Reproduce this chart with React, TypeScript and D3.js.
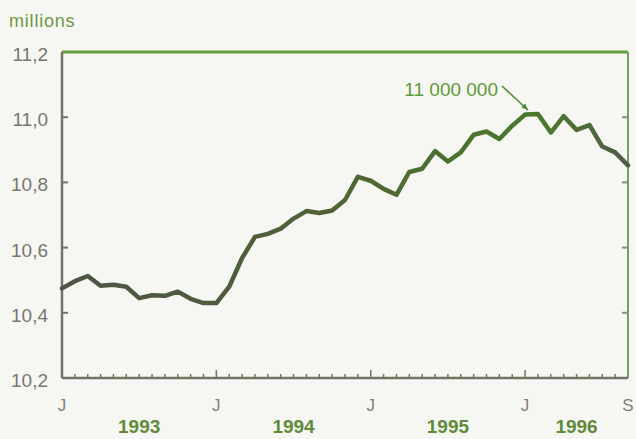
import React, { useEffect, useRef } from 'react';
import * as d3 from 'd3';

// monthly values, Jan 1993 .. Sep 1996 (millions)
const months = d3.range(45);
const values = [
  10.475, 10.497, 10.513, 10.483, 10.486, 10.48, 10.445, 10.454, 10.452, 10.465, 10.443, 10.43,
  10.43, 10.48, 10.568, 10.633, 10.642, 10.658, 10.689, 10.712, 10.706, 10.714, 10.746, 10.817,
  10.805, 10.78, 10.762, 10.832, 10.842, 10.896, 10.864, 10.892, 10.946, 10.956, 10.933, 10.974,
  11.008, 11.01, 10.953, 11.003, 10.961, 10.976, 10.91, 10.892, 10.852,
];
const yTicks = [11.2, 11.0, 10.8, 10.6, 10.4, 10.2];
const monthLabels = [
  { m: 0, label: 'J' },
  { m: 12, label: 'J' },
  { m: 24, label: 'J' },
  { m: 36, label: 'J' },
  { m: 44, label: 'S' },
];
const years = [
  { from: 0, to: 12, label: '1993' },
  { from: 12, to: 24, label: '1994' },
  { from: 24, to: 36, label: '1995' },
  { from: 36, to: 44, label: '1996' },
];
const peakLabel = '11 000 000';
const peakMonth = 37;

export default function App() {
  const ref = useRef<SVGSVGElement>(null);

  useEffect(() => {
    const width = 636;
    const height = 439;
    const left = 62, right = 628, top = 52, bottom = 378;

    const svg = d3.select(ref.current);
    svg.selectAll('*').remove();

    svg.append('rect').attr('width', width).attr('height', height).attr('fill', '#f6f6f3');

    const x = d3.scaleLinear().domain([0, 44]).range([left, right]);
    const y = d3.scaleLinear().domain([10.2, 11.2]).range([bottom, top]);

    const font = "'Liberation Sans', Arial, sans-serif";
    const axisGray = '#6e7565';
    const green = '#64a03c';

    // frame
    svg.append('line').attr('x1', left).attr('x2', right).attr('y1', top).attr('y2', top)
      .attr('stroke', green).attr('stroke-width', 3);
    svg.append('line').attr('x1', right).attr('x2', right).attr('y1', top).attr('y2', bottom)
      .attr('stroke', '#7c9a66').attr('stroke-width', 2);
    svg.append('line').attr('x1', left).attr('x2', left).attr('y1', top).attr('y2', bottom)
      .attr('stroke', axisGray).attr('stroke-width', 2.5);
    svg.append('line').attr('x1', left).attr('x2', right).attr('y1', bottom).attr('y2', bottom)
      .attr('stroke', axisGray).attr('stroke-width', 2.5);

    // y ticks (inside, both sides)
    const inner = yTicks.filter(v => v > 10.2 && v < 11.2);
    svg.selectAll('line.ytl').data(inner).enter().append('line')
      .attr('x1', left).attr('x2', left + 6)
      .attr('y1', d => y(d)).attr('y2', d => y(d))
      .attr('stroke', axisGray).attr('stroke-width', 2);
    svg.selectAll('line.ytr').data(inner).enter().append('line')
      .attr('x1', right).attr('x2', right - 6)
      .attr('y1', d => y(d)).attr('y2', d => y(d))
      .attr('stroke', '#7c9a66').attr('stroke-width', 2);

    svg.selectAll('text.ylab').data(yTicks).enter().append('text')
      .attr('x', 48).attr('y', d => y(d) + 9)
      .attr('text-anchor', 'end')
      .attr('font-family', font).attr('font-size', 19)
      .attr('fill', '#77786f')
      .text(d => d.toFixed(1).replace('.', ','));

    svg.append('text').attr('x', 9).attr('y', 27)
      .attr('font-family', font).attr('font-size', 18).attr('letter-spacing', 0.8)
      .attr('fill', '#6a9a44').text('millions');

    // month ticks
    svg.selectAll('line.mt').data(months.slice(1, 44)).enter().append('line')
      .attr('x1', d => x(d)).attr('x2', d => x(d))
      .attr('y1', bottom).attr('y2', d => bottom - (d % 12 === 0 ? 8 : 4))
      .attr('stroke', axisGray).attr('stroke-width', 1.5);

    svg.selectAll('text.ml').data(monthLabels).enter().append('text')
      .attr('x', d => x(d.m)).attr('y', 411)
      .attr('text-anchor', 'middle')
      .attr('font-family', font).attr('font-size', 17)
      .attr('fill', '#80817a')
      .text(d => d.label);

    svg.selectAll('text.yr').data(years).enter().append('text')
      .attr('x', d => (x(d.from) + x(d.to)) / 2).attr('y', 433)
      .attr('text-anchor', 'middle')
      .attr('font-family', font).attr('font-size', 19).attr('font-weight', 'bold')
      .attr('fill', '#5f8a3a')
      .text(d => d.label);

    // gradient for the line
    const grad = svg.append('defs').append('linearGradient')
      .attr('id', 'lineGrad').attr('gradientUnits', 'userSpaceOnUse')
      .attr('x1', left).attr('x2', right).attr('y1', 0).attr('y2', 0);
    grad.append('stop').attr('offset', '0%').attr('stop-color', '#4e5448');
    grad.append('stop').attr('offset', '45%').attr('stop-color', '#4f6236');
    grad.append('stop').attr('offset', '85%').attr('stop-color', '#4a7a2c');
    grad.append('stop').attr('offset', '100%').attr('stop-color', '#505a48');

    const line = d3.line<number>().x((d, i) => x(months[i])).y(d => y(d));
    svg.append('path').datum(values)
      .attr('d', line)
      .attr('fill', 'none')
      .attr('stroke', 'url(#lineGrad)')
      .attr('stroke-width', 4.5)
      .attr('stroke-linejoin', 'round')
      .attr('stroke-linecap', 'round');

    // annotation
    const px = x(peakMonth) - 10;
    const py = y(values[peakMonth]) - 4;
    svg.append('text').attr('x', 498).attr('y', 96)
      .attr('text-anchor', 'end')
      .attr('font-family', font).attr('font-size', 19)
      .attr('fill', '#5e9a36').text(peakLabel);
    const sx = 502, sy = 86;
    svg.append('line').attr('x1', sx).attr('y1', sy).attr('x2', px).attr('y2', py)
      .attr('stroke', '#4f8a30').attr('stroke-width', 1.5);
    const ang = Math.atan2(py - sy, px - sx);
    const ah = 7;
    const pts = [
      [px, py],
      [px - ah * Math.cos(ang - 0.4), py - ah * Math.sin(ang - 0.4)],
      [px - ah * Math.cos(ang + 0.4), py - ah * Math.sin(ang + 0.4)],
    ];
    svg.append('polygon').attr('points', pts.map(p => p.join(',')).join(' '))
      .attr('fill', '#4f8a30');
  }, []);

  return (
    <svg ref={ref} width={636} height={439}
      style={{ position: 'absolute', left: 0, top: 0, display: 'block' }} />
  );
}
